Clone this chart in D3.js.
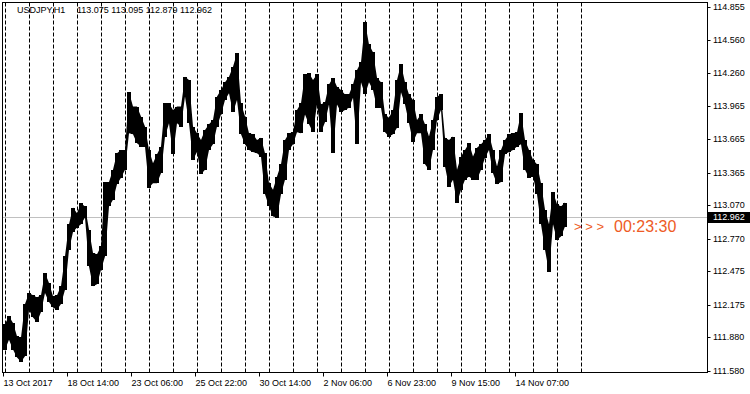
<!DOCTYPE html>
<html>
<head>
<meta charset="utf-8">
<script src="https://cdn.jsdelivr.net/npm/d3@7"></script>
<style>
  body { margin: 0; background: #fff; }
  svg { display: block; font-family: "Liberation Sans", Arial, sans-serif; }
</style>
</head>
<body>
<svg id="chart" width="750" height="394"></svg>
<script>
// USDJPY H1, grouped by 4 hours (high / low)
const h4High = [
  112.00, 112.07, 112.01, 111.89, 111.88, 112.18, 112.28, 112.26, 112.24, 112.26,
  112.46, 112.37, 112.25, 112.26, 112.34, 112.61, 112.90, 113.05, 113.00, 113.09,
  113.06, 112.85, 112.64, 112.63, 112.70, 113.28, 113.28, 113.39, 113.54, 113.57,
  113.57, 114.09, 113.96, 113.96, 113.87, 113.78, 113.57, 113.45, 113.53, 113.60,
  113.99, 113.99, 113.93, 113.96, 113.96, 114.23, 114.20, 113.78, 113.72, 113.66,
  113.75, 113.80, 113.84, 114.05, 114.11, 114.18, 114.23, 114.32, 114.44, 113.99,
  113.87, 113.72, 113.71, 113.66, 113.68, 113.54, 113.27, 113.21, 113.33, 113.44,
  113.66, 113.72, 113.73, 113.93, 113.99, 114.25, 114.26, 114.20, 114.25, 113.98,
  114.00, 114.16, 114.22, 114.14, 114.11, 114.07, 114.07, 114.16, 114.29, 114.36,
  114.72, 114.52, 114.45, 114.22, 114.18, 113.89, 113.86, 113.93, 114.20, 114.34,
  114.18, 114.07, 114.02, 113.84, 113.89, 113.80, 113.69, 113.84, 114.05, 114.07,
  113.68, 113.66, 113.69, 113.39, 113.51, 113.57, 113.63, 113.51, 113.59, 113.62,
  113.66, 113.71, 113.57, 113.42, 113.57, 113.66, 113.71, 113.72, 113.73, 113.90,
  113.66, 113.57, 113.48, 113.44, 113.27, 113.03, 112.90, 113.19, 113.08, 113.06,
  113.095
];
const h4Low = [
  111.77, 111.86, 111.77, 111.70, 111.66, 111.71, 112.13, 112.06, 112.02, 112.11,
  112.28, 112.20, 112.15, 112.13, 112.18, 112.31, 112.67, 112.83, 112.87, 112.90,
  112.96, 112.52, 112.34, 112.36, 112.49, 112.61, 113.06, 113.12, 113.26, 113.32,
  113.39, 113.72, 113.71, 113.63, 113.60, 113.60, 113.23, 113.27, 113.27, 113.36,
  113.69, 113.81, 113.53, 113.81, 113.78, 114.05, 113.81, 113.48, 113.55, 113.35,
  113.39, 113.57, 113.62, 113.78, 113.89, 114.02, 114.08, 113.91, 114.02, 113.71,
  113.62, 113.57, 113.55, 113.54, 113.51, 113.17, 113.06, 112.97, 112.96, 113.17,
  113.30, 113.57, 113.62, 113.73, 113.72, 113.89, 113.80, 113.73, 113.98, 113.73,
  113.82, 113.98, 113.54, 113.98, 113.91, 113.93, 113.95, 114.04, 113.62, 114.18,
  114.07, 114.18, 114.11, 113.95, 113.95, 113.73, 113.69, 113.71, 113.77, 114.09,
  113.98, 113.81, 113.64, 113.72, 113.72, 113.44, 113.39, 113.57, 113.84, 113.93,
  113.42, 113.24, 113.30, 113.09, 113.21, 113.30, 113.33, 113.30, 113.30, 113.39,
  113.50, 113.57, 113.36, 113.26, 113.28, 113.53, 113.55, 113.57, 113.60, 113.62,
  113.39, 113.32, 113.33, 113.17, 112.90, 112.67, 112.47, 112.90, 112.76, 112.79,
  112.879
];
const barsPerGroup = 4;

// bottom axis labels (hourly bar index from the first bar)
const timeLabels = ["13 Oct 2017", "18 Oct 14:00", "23 Oct 06:00", "25 Oct 22:00",
  "30 Oct 14:00", "2 Nov 06:00", "6 Nov 23:00", "9 Nov 15:00", "14 Nov 07:00"];
const timeLabelBars = [0, 64, 128, 192, 256, 320, 384, 448, 512];
const daySeparatorBars = d3.range(2, 580, 24);

// right axis
const priceTicks = ["114.855", "114.560", "114.260", "113.965", "113.665", "113.365",
  "113.070", "112.770", "112.475", "112.175", "111.880", "111.580"];
const symbol = "USDJPY,H1";
const lastBar = ["113.075", "113.095", "112.879", "112.962"];
const lastPrice = 112.962;
const timer = "00:23:30";

const svg = d3.select("#chart");
const plotL = 2.5, plotR = 707.5, plotT = 2.5, plotB = 372.5;

const x = d3.scaleLinear().domain([0, 704]).range([3, 707]);
const y = d3.scaleLinear().domain([111.580, 114.855]).range([370.7, 7.3]);

// day separators
svg.append("g")
  .selectAll("line")
  .data(daySeparatorBars)
  .join("line")
  .attr("x1", d => Math.round(x(d)) + 0.5)
  .attr("x2", d => Math.round(x(d)) + 0.5)
  .attr("y1", plotT)
  .attr("y2", plotB)
  .attr("stroke", "#000")
  .attr("stroke-dasharray", "4,2");

// last price line
const yLast = Math.round(y(lastPrice)) + 0.5;
svg.append("line")
  .attr("x1", plotL).attr("x2", plotR)
  .attr("y1", yLast).attr("y2", yLast)
  .attr("stroke", "#c0c0c0");

const groups = h4High.map((h, i) => ({ i, high: h, low: h4Low[i] }));

// thin joins between neighbouring groups
const band = d3.area()
  .x(d => x(d.i * barsPerGroup + barsPerGroup / 2))
  .y0(d => y(d.low))
  .y1(d => y(d.high));
svg.append("path")
  .datum(groups)
  .attr("d", band)
  .attr("fill", "#000");

// one high-low bar per 4-hour group
svg.append("g")
  .attr("shape-rendering", "crispEdges")
  .selectAll("rect")
  .data(groups)
  .join("rect")
  .attr("x", d => x(d.i * barsPerGroup))
  .attr("width", x(barsPerGroup) - x(0))
  .attr("y", d => y(d.high))
  .attr("height", d => Math.max(1, y(d.low) - y(d.high)))
  .attr("fill", "#000");

// frame
svg.append("rect")
  .attr("x", plotL).attr("y", plotT)
  .attr("width", plotR - plotL).attr("height", plotB - plotT)
  .attr("fill", "none").attr("stroke", "#000");

// right axis
const ra = svg.append("g").attr("font-size", 9);
priceTicks.forEach(t => {
  const yy = Math.round(y(+t)) + 0.5;
  ra.append("line")
    .attr("x1", plotR).attr("x2", plotR + 3)
    .attr("y1", yy).attr("y2", yy)
    .attr("stroke", "#000");
  ra.append("text")
    .attr("x", 713).attr("y", yy)
    .attr("dominant-baseline", "middle")
    .attr("fill", "#000")
    .text(t);
});
ra.append("rect")
  .attr("x", 708).attr("y", yLast - 5.5)
  .attr("width", 42).attr("height", 11)
  .attr("fill", "#000");
ra.append("text")
  .attr("x", 713).attr("y", yLast)
  .attr("dominant-baseline", "middle")
  .attr("fill", "#fff")
  .text(lastPrice.toFixed(3));

// bottom axis
const ba = svg.append("g").attr("font-size", 9);
timeLabelBars.forEach((b, i) => {
  const xx = Math.round(x(b)) + 0.5;
  ba.append("line")
    .attr("x1", xx).attr("x2", xx)
    .attr("y1", plotB).attr("y2", plotB + 4)
    .attr("stroke", "#000");
  ba.append("text")
    .attr("x", xx).attr("y", 386)
    .attr("fill", "#000")
    .text(timeLabels[i]);
});

// header
const hd = svg.append("text").attr("y", 11).attr("font-size", 9)
  .attr("dominant-baseline", "middle").attr("fill", "#000");
hd.append("tspan").attr("x", 17).text(symbol);
hd.append("tspan").attr("x", 77).text(lastBar.join(" "));

// countdown
const cd = svg.append("text")
  .attr("y", 228)
  .attr("dominant-baseline", "middle")
  .attr("fill", "#ee5b25");
cd.append("tspan").attr("x", 574).attr("font-size", 13).text("> > >");
cd.append("tspan").attr("x", 614).attr("font-size", 16).text(timer);
</script>
</body>
</html>
